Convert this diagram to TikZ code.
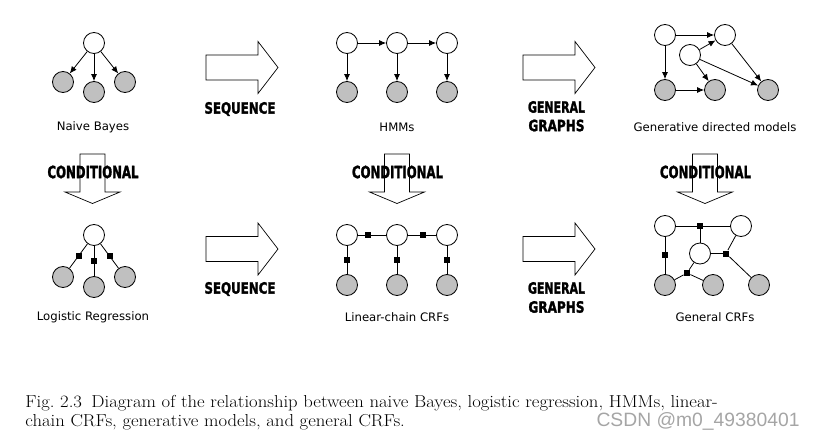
\documentclass[tikz,border=0pt]{standalone}
\usepackage{fontspec}
\usepackage{graphicx}
\usetikzlibrary{arrows.meta}
\newfontfamily\labelfont{DejaVu Sans}
\newfontfamily\headfont{DejaVu Sans}[BoldFeatures={FakeBold=2}]
\newfontfamily\markfont{Liberation Sans}
\definecolor{obsgray}{RGB}{192,192,192}
\definecolor{markgray}{RGB}{165,165,165}
\newcommand\bigword[3]{\resizebox{#1pt}{#2pt}{\headfont\bfseries #3}}

\begin{document}
\begin{tikzpicture}[x=1pt,y=-1pt,line width=0.8pt,
  hid/.style={circle,draw,fill=white,minimum size=21pt,inner sep=0pt},
  obs/.style={hid,fill=obsgray},
  fac/.style={rectangle,fill=black,minimum size=6pt,inner sep=0pt},
  lbl/.style={font=\labelfont\fontsize{11.7}{13}\selectfont},
  word/.style={inner sep=0pt},
  captxt/.style={anchor=west,inner sep=0pt,xscale=1.08,transform shape,font=\fontsize{17.3}{19}\selectfont},
  dir/.style={-{Latex[length=7pt,width=6pt]}},
  blk/.style={line width=0.7pt}]
\useasboundingbox (0,0) rectangle (815,439);
% block arrows
\foreach\x/\y in {206/67.5,523/67.5,206/249,523/249}
\draw[blk] (\x,\y-12.5)--++(52,0)--++(0,-13.5)--++(20,26)--++(-20,26)--++(0,-13.5)--++(-52,0)--cycle;
\foreach\x in {92.5,397,705}
\draw[blk] (\x-12.5,154)--++(0,38)--++(-15,0)--++(27.5,11.5)--++(27.5,-11.5)--++(-15,0)--++(0,-38)--cycle;
\node[word] (seq1) at (240,109) {\bigword{71}{11.5}{SEQUENCE}};
\node[word] (seq2) at (240,289) {\bigword{71}{11.5}{SEQUENCE}};
\node[word] (gen1) at (556.5,107) {\bigword{57}{11.5}{GENERAL}};
\node[word] (gra1) at (556.5,125.5) {\bigword{56}{11.5}{GRAPHS}};
\node[word] (gen2) at (556.5,288) {\bigword{57}{11.5}{GENERAL}};
\node[word] (gra2) at (556.5,307) {\bigword{56}{11.5}{GRAPHS}};
\foreach\x/\n in {93/c1,397.5/c2,705.5/c3}
\node[word] (\n) at (\x,172) {\bigword{91}{12.5}{CONDITIONAL}};
% naive Bayes
\node[hid] (nb) at (94,43) {};
\node[obs] (nb1) at (63,82) {};
\node[obs] (nb2) at (94,92) {};
\node[obs] (nb3) at (125,82) {};
\foreach\n in {nb1,nb2,nb3} \draw[dir] (nb)--(\n);
\node[lbl] (nbl) at (93,127) {Naive Bayes};
% HMMs
\foreach\i/\x in {1/347,2/397,3/447} {
\node[hid] (h\i) at (\x,43) {};
\node[obs] (o\i) at (\x,92) {};
\draw[dir] (h\i)--(o\i);}
\draw[dir] (h1)--(h2); \draw[dir] (h2)--(h3);
\node[lbl] (hl) at (397,127) {HMMs};
% generative directed models
\node[hid] (ga) at (665,35) {};
\node[hid] (gb) at (725,35) {};
\node[hid] (gc) at (690,55) {};
\node[obs] (gd) at (665,90) {};
\node[obs] (ge) at (715,90) {};
\node[obs] (gf) at (768,90) {};
\foreach\a/\b in {ga/gb,ga/gd,gc/gb,gc/ge,gc/gf,gb/gf,gd/ge} \draw[dir] (\a)--(\b);
\node[lbl] (gl) at (715,127) {Generative directed models};
% logistic regression
\node[hid] (lr) at (94,235) {};
\node[obs] (lr1) at (63,277) {};
\node[obs] (lr2) at (94,287) {};
\node[obs] (lr3) at (125,277) {};
\foreach\n in {lr1,lr2,lr3} \draw (lr)--node[fac]{}(\n);
\node[lbl] (lrl) at (93,317) {Logistic Regression};
% linear-chain CRFs
\foreach\i/\x in {1/347,2/397,3/447} {
\node[hid] (l\i) at (\x,235) {};
\node[obs] (m\i) at (\x,285) {};
\draw (l\i)--node[fac]{}(m\i);}
\draw (l1)--node[fac,pos=0.35]{}(l2)--node[fac,pos=0.53]{}(l3);
\node[lbl] (lcl) at (397,317) {Linear-chain CRFs};
% general CRFs
\node[hid] (ca) at (665,226) {};
\node[hid] (cb) at (741,226) {};
\node[hid] (cc) at (700,253.5) {};
\node[obs] (cd) at (665,285) {};
\node[obs] (ce) at (713,285) {};
\node[obs] (cf) at (759,285) {};
\node[fac] (f1) at (700,226) {};
\node[fac] (f2) at (665,255) {};
\node[fac] (f3) at (726,253.5) {};
\node[fac] (f4) at (687,273) {};
\foreach\a/\b in {ca/f1,f1/cb,f1/cc,ca/f2,f2/cd,cc/f3,f3/cb,f3/cf,cc/f4,f4/cd,f4/ce} \draw (\a)--(\b);
\node[lbl] (crl) at (715,317) {General CRFs};
% caption
\node[captxt] (cap1) at (25,403) {Fig.\ 2.3\enspace Diagram of the relationship between naive Bayes, logistic regression, HMMs, linear-};
\node[captxt] (cap2) at (25,422) {chain CRFs, generative models, and general CRFs.};
\node[anchor=east,inner sep=0pt,font=\markfont\fontsize{19.3}{21}\selectfont,text=markgray] (mark) at (800,421) {CSDN @m0\_49380401};
\end{tikzpicture}
\end{document}
